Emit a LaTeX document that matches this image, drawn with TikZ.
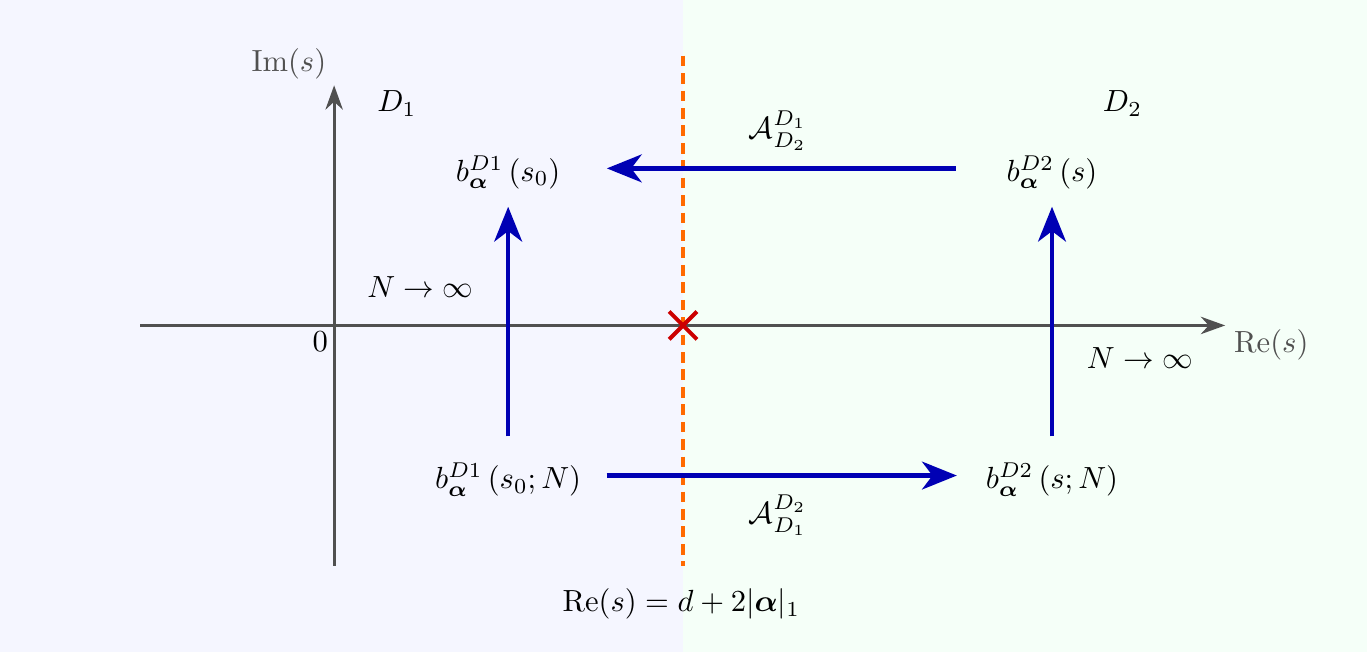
\documentclass[tikz,border=0pt]{standalone}
\usepackage{bm}
\usetikzlibrary{arrows.meta}
\definecolor{axisgray}{HTML}{505050}
\definecolor{mapblue}{HTML}{0000B4}
\definecolor{lineorange}{HTML}{FF6A00}
\definecolor{poleRed}{HTML}{CC0000}
\definecolor{bgleft}{HTML}{F5F6FF}
\definecolor{bgright}{HTML}{F5FFF8}
\begin{document}
\begin{tikzpicture}[
  axis/.style={axisgray, line width=0.9pt, -{Stealth[length=2.8mm,width=2mm]}},
  flow/.style={mapblue, line width=1.4pt, -{Stealth[length=4mm,width=3.2mm,inset=1.2mm]}},
]
% the two half-planes
\fill[bgleft] (-3.84,-3.75) rectangle (4.01,3.74);
\fill[bgright] (4.01,-3.75) rectangle (11.87,3.74);
\useasboundingbox (-3.84,-3.75) rectangle (11.87,3.74);

\coordinate (O) at (0,0);
\coordinate (xl) at (-2.23,0);
\coordinate (xr) at (10.24,0);
\coordinate (yb) at (0,-2.76);
\coordinate (yt) at (0,2.76);
\draw[axis] (xl) -- (xr);
\draw[axis] (yb) -- (yt);
\node[axisgray] (imlab) at (-0.52,3.01) {$\mathrm{Im}(s)$};
\node[axisgray] (relab) at (10.77,-0.22) {$\mathrm{Re}(s)$};
\node (zero) at (-0.16,-0.19) {$0$};

% critical line and pole
\coordinate (ct) at (4.01,3.1);
\coordinate (cb) at (4.01,-2.76);
\draw[lineorange, line width=1.1pt, dash pattern=on 3.5pt off 2.2pt] (ct) -- (cb);
\coordinate (P) at (4.01,0);
\draw[poleRed, line width=1.3pt] ([shift={(-0.16,-0.16)}]P) -- ([shift={(0.16,0.16)}]P);
\draw[poleRed, line width=1.3pt] ([shift={(-0.16,0.16)}]P) -- ([shift={(0.16,-0.16)}]P);
\node (crit) at (3.99,-3.2) {$\mathrm{Re}(s)=d+2|\bm{\alpha}|_1$};

\node (D1) at (0.72,2.55) {$D_1$};
\node (D2) at (9.06,2.55) {$D_2$};

% the four functions
\node (bA) at (2,1.76) {$b_{\bm{\alpha}}^{D1}\,(s_0)$};
\node (bB) at (8.25,1.76) {$b_{\bm{\alpha}}^{D2}\,(s)$};
\node (bAN) at (2,-1.77) {$b_{\bm{\alpha}}^{D1}\,(s_0;N)$};
\node (bBN) at (8.25,-1.77) {$b_{\bm{\alpha}}^{D2}\,(s;N)$};

\draw[flow, shorten <=0.46cm, shorten >=0.41cm] ([yshift=0.45mm]bB.west) -- ([yshift=0.45mm]bA.east);
\draw[flow, shorten <=0.17cm, shorten >=0.21cm] ([yshift=0.45mm]bAN.east) -- ([yshift=0.45mm]bBN.west);
\draw[flow, shorten <=0.18cm, shorten >=0.08cm] (bAN) -- (bA);
\draw[flow, shorten <=0.18cm, shorten >=0.08cm] (bBN) -- (bB);

\node (Aup) at (5.1,2.24) {$\mathcal{A}_{D_2}^{D_1}$};
\node (Adown) at (5.1,-2.18) {$\mathcal{A}_{D_1}^{D_2}$};
\node (Nleft) at (0.99,0.44) {$N\to\infty$};
\node (Nright) at (9.26,-0.38) {$N\to\infty$};
\end{tikzpicture}
\end{document}
